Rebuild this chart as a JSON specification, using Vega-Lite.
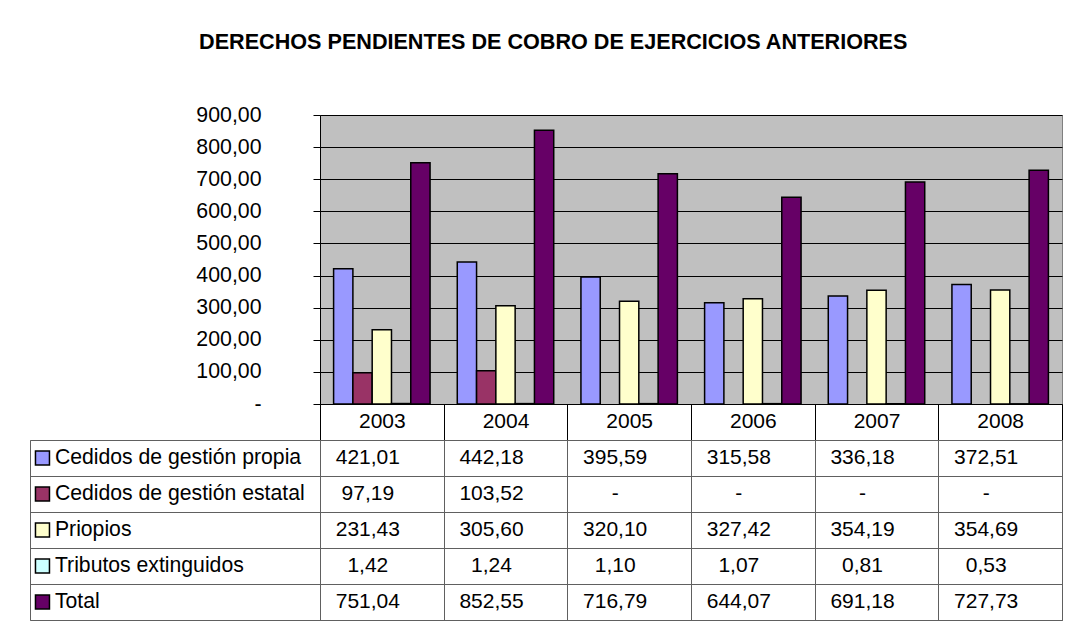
{
  "$schema": "https://vega.github.io/schema/vega-lite/v6.json",
  "background": "white",
  "padding": {"left": 29, "top": 31, "right": 5, "bottom": 5},
  "config": {"font": "Liberation Sans", "view": {"stroke": null}},
  "title": {"text": "DERECHOS PENDIENTES DE COBRO DE EJERCICIOS ANTERIORES", "fontSize": 21.6, "fontWeight": "bold", "color": "black", "anchor": "middle", "dx": 7, "offset": 50},
  "datasets": {
    "d": [
      {"year": "2003", "series": "Cedidos de gestión propia", "value": 421.01},
      {"year": "2003", "series": "Cedidos de gestión estatal", "value": 97.19},
      {"year": "2003", "series": "Priopios", "value": 231.43},
      {"year": "2003", "series": "Tributos extinguidos", "value": 1.42},
      {"year": "2003", "series": "Total", "value": 751.04},
      {"year": "2004", "series": "Cedidos de gestión propia", "value": 442.18},
      {"year": "2004", "series": "Cedidos de gestión estatal", "value": 103.52},
      {"year": "2004", "series": "Priopios", "value": 305.60},
      {"year": "2004", "series": "Tributos extinguidos", "value": 1.24},
      {"year": "2004", "series": "Total", "value": 852.55},
      {"year": "2005", "series": "Cedidos de gestión propia", "value": 395.59},
      {"year": "2005", "series": "Cedidos de gestión estatal", "value": null},
      {"year": "2005", "series": "Priopios", "value": 320.10},
      {"year": "2005", "series": "Tributos extinguidos", "value": 1.10},
      {"year": "2005", "series": "Total", "value": 716.79},
      {"year": "2006", "series": "Cedidos de gestión propia", "value": 315.58},
      {"year": "2006", "series": "Cedidos de gestión estatal", "value": null},
      {"year": "2006", "series": "Priopios", "value": 327.42},
      {"year": "2006", "series": "Tributos extinguidos", "value": 1.07},
      {"year": "2006", "series": "Total", "value": 644.07},
      {"year": "2007", "series": "Cedidos de gestión propia", "value": 336.18},
      {"year": "2007", "series": "Cedidos de gestión estatal", "value": null},
      {"year": "2007", "series": "Priopios", "value": 354.19},
      {"year": "2007", "series": "Tributos extinguidos", "value": 0.81},
      {"year": "2007", "series": "Total", "value": 691.18},
      {"year": "2008", "series": "Cedidos de gestión propia", "value": 372.51},
      {"year": "2008", "series": "Cedidos de gestión estatal", "value": null},
      {"year": "2008", "series": "Priopios", "value": 354.69},
      {"year": "2008", "series": "Tributos extinguidos", "value": 0.53},
      {"year": "2008", "series": "Total", "value": 727.73}
    ]
  },
  "columns": 2,
  "spacing": {"row": 36, "column": 0},
  "bounds": "flush",
  "concat": [
    {
      "width": 290, "height": 289,
      "data": {"values": [{}]},
      "mark": "text",
      "encoding": {"text": {"value": ""}},
      "view": {"stroke": null}
    },
    {
      "width": 742, "height": 289,
      "data": {"name": "d"},
      "mark": {"type": "bar", "stroke": "black", "strokeWidth": 1.5},
      "encoding": {
        "x": {"field": "year", "type": "nominal", "scale": {"paddingInner": 0, "paddingOuter": 0},
          "axis": {"title": null, "orient": "bottom", "domainColor": "black", "domainWidth": 1, "tickBand": "extent", "tickSize": 36, "tickColor": "black", "tickWidth": 1, "labelFontSize": 21, "labelColor": "black", "labelPadding": -19, "labelBaseline": "middle", "labelAngle": 0, "grid": false}},
        "xOffset": {"field": "series", "type": "nominal", "sort": ["Cedidos de gestión propia", "Cedidos de gestión estatal", "Priopios", "Tributos extinguidos", "Total"], "scale": {"paddingInner": 0, "paddingOuter": 0.705}},
        "y": {"field": "value", "type": "quantitative", "scale": {"domain": [0, 900], "nice": false},
          "axis": {"title": null, "values": [0, 100, 200, 300, 400, 500, 600, 700, 800, 900], "grid": true, "gridColor": "black", "gridOpacity": 1, "gridWidth": 1, "domainColor": "black", "tickColor": "black", "tickSize": 7, "labelFontSize": 21.3, "labelColor": "black", "labelPadding": 52,
            "labelExpr": "datum.value == 0 ? '-' : replace(format(datum.value, '.2f'), '.', ',')"}},
        "color": {"field": "series", "type": "nominal", "scale": {"domain": ["Cedidos de gestión propia", "Cedidos de gestión estatal", "Priopios", "Tributos extinguidos", "Total"], "range": ["#9999FF", "#993366", "#FFFFCC", "#CCFFFF", "#660066"]}, "legend": null}
      },
      "view": {"fill": "#C0C0C0", "stroke": "#808080"}
    },
    {
      "width": 290, "height": 180,
      "data": {"name": "d"},
      "transform": [{"filter": "datum.year == '2003'"}],
      "encoding": {
        "y": {"field": "series", "type": "nominal", "sort": ["Cedidos de gestión propia", "Cedidos de gestión estatal", "Priopios", "Tributos extinguidos", "Total"], "scale": {"paddingInner": 0, "paddingOuter": 0},
          "axis": {"title": null, "labels": false, "ticks": false, "domain": false, "grid": true, "tickBand": "extent", "gridColor": "#606060", "gridOpacity": 1}}
      },
      "layer": [
        {
          "mark": {"type": "point", "shape": "square", "filled": true, "size": 196, "stroke": "black", "strokeWidth": 1.5, "opacity": 1},
          "encoding": {
            "x": {"datum": 0.043, "type": "quantitative", "scale": {"domain": [0, 1]}, "axis": null},
            "color": {"field": "series", "type": "nominal", "scale": {"domain": ["Cedidos de gestión propia", "Cedidos de gestión estatal", "Priopios", "Tributos extinguidos", "Total"], "range": ["#9999FF", "#993366", "#FFFFCC", "#CCFFFF", "#660066"]}, "legend": null}
          }
        },
        {
          "mark": {"type": "text", "align": "left", "baseline": "middle", "fontSize": 21.2, "color": "black"},
          "encoding": {
            "x": {"datum": 0.086, "type": "quantitative", "axis": null},
            "text": {"field": "series"}
          }
        }
      ],
      "view": {"stroke": "#606060"}
    },
    {
      "width": 742, "height": 180,
      "data": {"name": "d"},
      "transform": [{"calculate": "datum.value == null ? '-' : replace(format(datum.value, '.2f'), '.', ',')", "as": "label"}],
      "mark": {"type": "text", "fontSize": 21, "color": "black", "baseline": "middle", "dx": -14},
      "encoding": {
        "x": {"field": "year", "type": "nominal", "scale": {"paddingInner": 0, "paddingOuter": 0},
          "axis": {"title": null, "labels": false, "ticks": false, "domain": false, "grid": true, "tickBand": "extent", "gridColor": "#606060", "gridOpacity": 1}},
        "y": {"field": "series", "type": "nominal", "sort": ["Cedidos de gestión propia", "Cedidos de gestión estatal", "Priopios", "Tributos extinguidos", "Total"], "scale": {"paddingInner": 0, "paddingOuter": 0},
          "axis": {"title": null, "labels": false, "ticks": false, "domain": false, "grid": true, "tickBand": "extent", "gridColor": "#606060", "gridOpacity": 1}},
        "text": {"field": "label"}
      },
      "view": {"stroke": "#606060"}
    }
  ]
}
